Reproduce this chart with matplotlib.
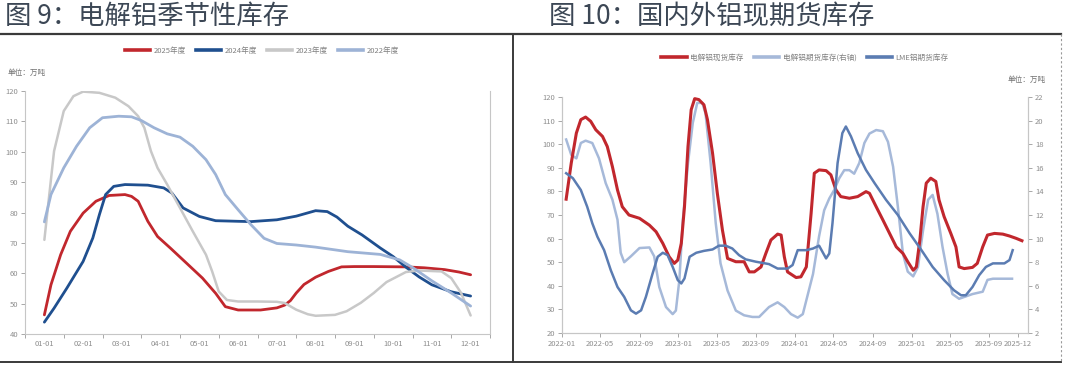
import matplotlib
matplotlib.use("Agg")
import numpy as np
import pandas as pd
import matplotlib.pyplot as plt
import matplotlib.dates as mdates
from matplotlib.lines import Line2D

plt.rcParams['font.family'] = ['Noto Sans CJK SC', 'DejaVu Sans']

# ---------------- data: seasonal chart (left) ----------------
month_labels = ["01-01", "02-01", "03-01", "04-01", "05-01", "06-01",
                "07-01", "08-01", "09-01", "10-01", "11-01", "12-01"]

x_2025 = [0, 0.17, 0.42, 0.67, 1.0, 1.33, 1.67, 2.08, 2.25, 2.42, 2.67, 2.92, 3.25, 3.67,
          4.08, 4.42, 4.67, 5.0, 5.58, 6.0, 6.2, 6.35, 6.5, 6.7, 7.0, 7.33, 7.67, 8.0,
          8.5, 9.33, 9.8, 10.33, 10.7, 11.0]
y_2025 = [46.3, 56.2, 66.1, 73.8, 79.8, 83.7, 85.6, 85.9, 85.3, 83.7, 77.1, 72.1, 68.3, 63.3,
          58.4, 53.4, 49.0, 47.9, 47.9, 48.6, 49.5, 51.0, 53.5, 56.3, 58.7, 60.6, 62.1, 62.2,
          62.2, 62.1, 61.8, 61.2, 60.4, 59.5]

x_2024 = [0, 0.25, 0.58, 1.0, 1.25, 1.42, 1.58, 1.79, 2.08, 2.67, 3.08, 3.29, 3.58, 4.0,
          4.42, 5.0, 5.33, 6.0, 6.5, 7.0, 7.3, 7.55, 7.83, 8.2, 8.67, 9.0, 9.33, 9.67,
          10.0, 10.5, 11.0]
y_2024 = [43.9, 48.5, 55.1, 63.9, 71.6, 79.3, 85.9, 88.6, 89.2, 89.0, 88.1, 86.4, 81.5, 78.7,
          77.3, 77.1, 77.0, 77.6, 78.8, 80.6, 80.3, 78.5, 75.5, 72.6, 68.3, 65.5, 62.0, 58.8,
          56.2, 53.9, 52.5]

x_2023 = [0, 0.08, 0.25, 0.5, 0.75, 1.0, 1.42, 1.83, 2.17, 2.42, 2.58, 2.75, 2.92, 3.17,
          3.5, 3.83, 4.17, 4.33, 4.5, 4.71, 5.0, 5.5, 6.0, 6.2, 6.5, 6.8, 7.0, 7.5, 7.8,
          8.17, 8.5, 8.83, 9.33, 9.67, 10.25, 10.5, 10.75, 11.0]
y_2023 = [71.0, 80.4, 100.2, 113.4, 118.3, 119.8, 119.4, 117.8, 115.0, 111.7, 107.9, 100.2,
          94.7, 89.2, 81.5, 73.8, 66.1, 60.6, 54.0, 51.2, 50.7, 50.7, 50.6, 50.2, 48.0, 46.5,
          46.0, 46.3, 47.5, 50.3, 53.5, 57.1, 60.4, 60.9, 60.6, 58.4, 53.6, 46.1]

x_2022 = [0, 0.17, 0.5, 0.83, 1.17, 1.5, 1.92, 2.25, 2.5, 2.83, 3.17, 3.5, 3.83, 4.17,
          4.42, 4.67, 5.0, 5.33, 5.67, 6.0, 6.5, 7.0, 7.83, 8.67, 9.17, 9.5, 10.0, 10.5, 11.0]
y_2022 = [76.9, 85.9, 94.7, 101.8, 107.9, 111.2, 111.7, 111.5, 110.3, 107.9, 105.9, 104.8,
          101.8, 97.4, 92.5, 85.9, 80.9, 76.0, 71.5, 69.8, 69.3, 68.6, 67.1, 66.2, 64.4, 61.9,
          57.5, 53.5, 49.2]

season_names = ["2025年度", "2024年度", "2023年度", "2022年度"]

# ---------------- data: domestic / overseas stocks (right) ----------------
spot_dates = ["2022-01-14", "2022-01-30", "2022-02-15", "2022-03-01", "2022-03-16", "2022-04-01",
              "2022-04-17", "2022-05-08", "2022-05-23", "2022-06-08", "2022-06-24", "2022-07-09",
              "2022-07-30", "2022-09-01", "2022-10-02", "2022-10-23", "2022-11-13", "2022-12-03",
              "2022-12-19", "2022-12-30", "2023-01-10", "2023-01-20", "2023-01-31", "2023-02-10",
              "2023-02-21", "2023-03-06", "2023-03-22", "2023-04-02", "2023-04-18", "2023-05-03",
              "2023-05-19", "2023-06-04", "2023-06-30", "2023-07-26", "2023-08-11", "2023-08-27",
              "2023-09-17", "2023-10-02", "2023-10-18", "2023-11-08", "2023-11-19", "2023-11-29",
              "2023-12-09", "2024-01-05", "2024-01-20", "2024-02-06", "2024-02-21", "2024-03-02",
              "2024-03-17", "2024-04-08", "2024-04-23", "2024-05-09", "2024-05-24", "2024-06-20",
              "2024-07-16", "2024-08-11", "2024-08-22", "2024-09-12", "2024-10-03", "2024-10-24",
              "2024-11-14", "2024-12-05", "2024-12-20", "2025-01-06", "2025-01-16", "2025-01-27",
              "2025-02-06", "2025-02-16", "2025-03-02", "2025-03-18", "2025-03-28", "2025-04-13",
              "2025-05-04", "2025-05-20", "2025-05-30", "2025-06-15", "2025-07-11", "2025-07-26",
              "2025-08-12", "2025-08-27", "2025-09-18", "2025-10-14", "2025-11-04", "2025-11-25",
              "2025-12-13"]
spot_stock = [76.7, 92.0, 104.7, 110.4, 111.5, 109.7, 106.1, 103.3, 99.0, 90.5, 80.6, 73.5,
              70.0, 68.6, 65.7, 62.9, 58.0, 52.3, 49.5, 50.9, 58.0, 73.5, 99.0, 114.6,
              119.3, 118.9, 116.7, 110.4, 96.2, 79.2, 63.6, 51.6, 50.2, 50.2, 45.9, 45.9,
              48.0, 53.7, 59.4, 61.9, 61.5, 52.3, 45.9, 43.5, 43.8, 48.0, 70.7, 87.7,
              89.1, 88.8, 87.0, 80.6, 77.8, 77.1, 77.8, 79.9, 79.2, 73.5, 67.9, 62.2,
              56.5, 53.7, 50.2, 46.6, 48.0, 59.4, 73.5, 83.5, 85.6, 84.2, 76.4, 69.3,
              62.2, 56.5, 48.0, 47.3, 47.8, 49.5, 56.5, 61.5, 62.2, 61.9, 61.1, 60.1, 59.1]

shfe_dates = ["2022-01-14", "2022-01-30", "2022-02-15", "2022-03-01", "2022-03-16", "2022-04-06",
              "2022-04-27", "2022-05-18", "2022-06-08", "2022-06-24", "2022-07-04", "2022-07-15",
              "2022-08-05", "2022-09-01", "2022-10-02", "2022-10-17", "2022-11-02", "2022-11-23",
              "2022-12-14", "2022-12-24", "2023-01-04", "2023-01-15", "2023-01-31", "2023-02-15",
              "2023-03-01", "2023-03-17", "2023-03-27", "2023-04-12", "2023-04-28", "2023-05-13",
              "2023-06-04", "2023-06-30", "2023-07-26", "2023-08-21", "2023-09-11", "2023-10-12",
              "2023-11-08", "2023-11-29", "2023-12-20", "2024-01-10", "2024-01-26", "2024-02-11",
              "2024-02-27", "2024-03-17", "2024-04-02", "2024-04-18", "2024-05-03", "2024-05-19",
              "2024-06-04", "2024-06-20", "2024-07-05", "2024-07-21", "2024-08-06", "2024-08-22",
              "2024-09-12", "2024-10-03", "2024-10-19", "2024-11-04", "2024-11-19", "2024-12-05",
              "2024-12-20", "2025-01-06", "2025-01-21", "2025-02-06", "2025-02-22", "2025-03-08",
              "2025-03-23", "2025-04-08", "2025-04-24", "2025-05-09", "2025-05-30", "2025-06-20",
              "2025-07-11", "2025-08-12", "2025-08-27", "2025-09-13", "2025-10-14", "2025-11-12"]
shfe_stock = [18.4, 17.1, 16.8, 18.1, 18.3, 18.1, 16.8, 14.7, 13.3, 11.6, 8.8, 8.0,
              8.5, 9.2, 9.25, 8.5, 5.9, 4.2, 3.6, 3.9, 6.5, 11.6, 16.4, 19.8,
              21.5, 21.5, 20.6, 16.4, 11.3, 7.9, 5.6, 3.9, 3.5, 3.36, 3.36, 4.2,
              4.6, 4.2, 3.6, 3.3, 3.6, 5.3, 7.0, 10.2, 12.4, 13.4, 14.1, 15.1,
              15.8, 15.8, 15.5, 16.4, 18.1, 18.9, 19.2, 19.1, 18.2, 16.1, 12.7, 8.7,
              7.2, 6.8, 7.6, 10.7, 13.3, 13.7, 12.1, 9.3, 7.0, 5.3, 4.9, 5.1,
              5.3, 5.5, 6.5, 6.6, 6.6, 6.6]

lme_dates = ["2022-01-14", "2022-02-04", "2022-03-01", "2022-03-21", "2022-04-06", "2022-04-22",
             "2022-05-13", "2022-06-03", "2022-06-24", "2022-07-15", "2022-08-05", "2022-08-21",
             "2022-09-06", "2022-09-21", "2022-10-12", "2022-10-28", "2022-11-13", "2022-11-28",
             "2022-12-14", "2022-12-30", "2023-01-10", "2023-01-20", "2023-02-05", "2023-02-26",
             "2023-03-22", "2023-04-18", "2023-05-08", "2023-05-29", "2023-06-19", "2023-07-10",
             "2023-07-31", "2023-09-01", "2023-10-12", "2023-11-08", "2023-12-09", "2023-12-25",
             "2024-01-10", "2024-02-06", "2024-02-27", "2024-03-17", "2024-04-08", "2024-04-18",
             "2024-04-28", "2024-05-14", "2024-05-29", "2024-06-09", "2024-06-25", "2024-07-16",
             "2024-08-11", "2024-09-07", "2024-10-13", "2024-11-19", "2024-12-26", "2025-02-01",
             "2025-03-08", "2025-04-13", "2025-05-14", "2025-06-05", "2025-06-20", "2025-07-11",
             "2025-08-01", "2025-08-22", "2025-09-13", "2025-10-19", "2025-11-04", "2025-11-14"]
lme_stock = [87.7, 85.6, 80.6, 73.5, 66.5, 60.8, 55.1, 46.6, 39.5, 35.3, 29.6, 28.2,
             29.6, 35.3, 45.2, 52.3, 54.0, 53.0, 48.0, 42.4, 41.0, 43.1, 52.3, 54.0,
             54.8, 55.4, 57.0, 57.0, 55.8, 53.0, 51.2, 50.2, 49.2, 47.3, 47.3, 48.8,
             55.1, 55.1, 55.8, 57.0, 51.6, 53.7, 66.5, 92.0, 104.7, 107.5, 103.3, 96.2,
             89.1, 83.5, 76.4, 70.0, 62.2, 55.1, 48.0, 42.4, 38.1, 36.0, 36.0, 39.5,
             44.5, 48.0, 49.5, 49.5, 50.9, 55.1]

stock_names = ["电解铝现货库存", "电解铝期货库存(右轴)", "LME铝期货库存"]
right_ticks = ["2022-01", "2022-05", "2022-09", "2023-01", "2023-05", "2023-09", "2024-01",
               "2024-05", "2024-09", "2025-01", "2025-05", "2025-09", "2025-12"]

# ---------------- styling ----------------
W, H = 1080, 366
RED = "#c1272d"
NAVY = "#1f4f8f"
GREY = "#c8c8c8"
LBLUE = "#9db3d6"
SHFE = "#a6b9d9"
LME = "#5b7cb2"
SPINE = "#c6c6c6"
TICKC = "#8e8e8e"
TS = 5.5

fig = plt.figure(figsize=(W / 100, H / 100), dpi=100)
fig.patch.set_facecolor("white")


def fx(px):
    return px / W


def fy(py):
    return 1 - py / H


# frame lines
fig.add_artist(Line2D([0, fx(1061)], [fy(33.5), fy(33.5)], color="#3a3a3a", lw=1.6))
fig.add_artist(Line2D([0, fx(1061)], [fy(362), fy(362)], color="#3a3a3a", lw=1.4))
fig.add_artist(Line2D([fx(513), fx(513)], [fy(34), fy(362)], color="#3a3a3a", lw=1.4))
fig.add_artist(Line2D([fx(1061), fx(1061)], [fy(34), fy(362)], color="#9a9a9a", lw=0.8,
                      linestyle=(0, (2, 2))))

# titles
fig.text(fx(5), fy(16), "图 9：电解铝季节性库存", fontsize=19, color="#3c4755", va="center")
fig.text(fx(549), fy(16), "图 10：国内外铝现期货库存", fontsize=19, color="#3c4755", va="center")


def style_axis(ax):
    ax.tick_params(axis="both", which="major", length=3, width=0.6, color="#9a9a9a",
                   labelsize=TS, labelcolor=TICKC, pad=2)
    for s in ax.spines.values():
        s.set_color(SPINE)
        s.set_linewidth(0.8)


# ---------------- left chart ----------------
ax1 = fig.add_axes([fx(25), fy(334), fx(490) - fx(25), fy(91) - fy(334)])
style_axis(ax1)
ax1.spines["top"].set_visible(False)
series = [(x_2025, y_2025, RED, 2.0), (x_2024, y_2024, NAVY, 2.0),
          (x_2023, y_2023, GREY, 1.8), (x_2022, y_2022, LBLUE, 2.0)]
handles = []
for (xs, ys, c, lw), name in zip(series, season_names):
    h, = ax1.plot(xs, ys, color=c, lw=lw, solid_joinstyle="round", solid_capstyle="round",
                  label=name)
    handles.append(h)
ax1.set_xlim(-0.5, len(month_labels) - 0.5)
ax1.set_ylim(40, 120)
ax1.set_yticks(np.arange(40, 121, 10))
ax1.set_xticks(np.arange(-0.5, len(month_labels), 1.0))
ax1.set_xticklabels([])
ax1.set_xticks(np.arange(len(month_labels)), minor=True)
ax1.set_xticklabels(month_labels, minor=True)
ax1.tick_params(axis="x", which="minor", length=0, labelsize=TS, labelcolor=TICKC, pad=4)
ax1.tick_params(axis="y", right=False)

leg1 = ax1.legend(handles=[Line2D([], [], color=h.get_color(), lw=2.6) for h in handles],
                  labels=season_names, loc="center", ncol=4, frameon=False,
                  bbox_to_anchor=(fx(262), fy(51)), bbox_transform=fig.transFigure,
                  fontsize=TS, handlelength=3.3, handletextpad=0.5, columnspacing=1.3)
for t in leg1.get_texts():
    t.set_color("#808080")
fig.text(fx(8), fy(73), "单位：万吨", fontsize=TS, color="#707070", va="center")

# ---------------- right chart ----------------
ax2 = fig.add_axes([fx(562), fy(333), fx(1028) - fx(562), fy(97) - fy(333)])
ax3 = ax2.twinx()
style_axis(ax2)
style_axis(ax3)
ax2.spines["top"].set_visible(False)
ax3.spines["top"].set_visible(False)

d_spot = pd.to_datetime(spot_dates)
d_shfe = pd.to_datetime(shfe_dates)
d_lme = pd.to_datetime(lme_dates)
h1, = ax2.plot(d_spot, spot_stock, color=RED, lw=2.2, solid_joinstyle="round")
h3, = ax2.plot(d_lme, lme_stock, color=LME, lw=1.8, solid_joinstyle="round")
h2, = ax3.plot(d_shfe, shfe_stock, color=SHFE, lw=1.8, solid_joinstyle="round")
ax2.set_zorder(ax3.get_zorder() + 1)
ax2.patch.set_visible(False)

ax2.set_ylim(20, 120)
ax2.set_yticks(np.arange(20, 121, 10))
ax3.set_ylim(2, 22)
ax3.set_yticks(np.arange(2, 23, 2))
ax2.set_xlim(pd.Timestamp("2022-01-01"), pd.Timestamp("2026-01-01"))
tick_dates = pd.to_datetime([t + "-01" for t in right_ticks])
ax2.set_xticks(tick_dates)
ax2.set_xticklabels(right_ticks)
ax2.tick_params(axis="x", labelsize=TS, labelcolor=TICKC)

leg2 = ax2.legend(handles=[Line2D([], [], color=c, lw=2.6) for c in (RED, SHFE, LME)],
                  labels=stock_names, loc="center", ncol=3, frameon=False,
                  bbox_to_anchor=(fx(805), fy(58)), bbox_transform=fig.transFigure,
                  fontsize=TS, handlelength=3.3, handletextpad=0.5, columnspacing=1.3)
for t in leg2.get_texts():
    t.set_color("#808080")
fig.text(fx(1046), fy(80), "单位：万吨", fontsize=TS, color="#707070", va="center", ha="right")

fig.savefig("out.png", dpi=100)
